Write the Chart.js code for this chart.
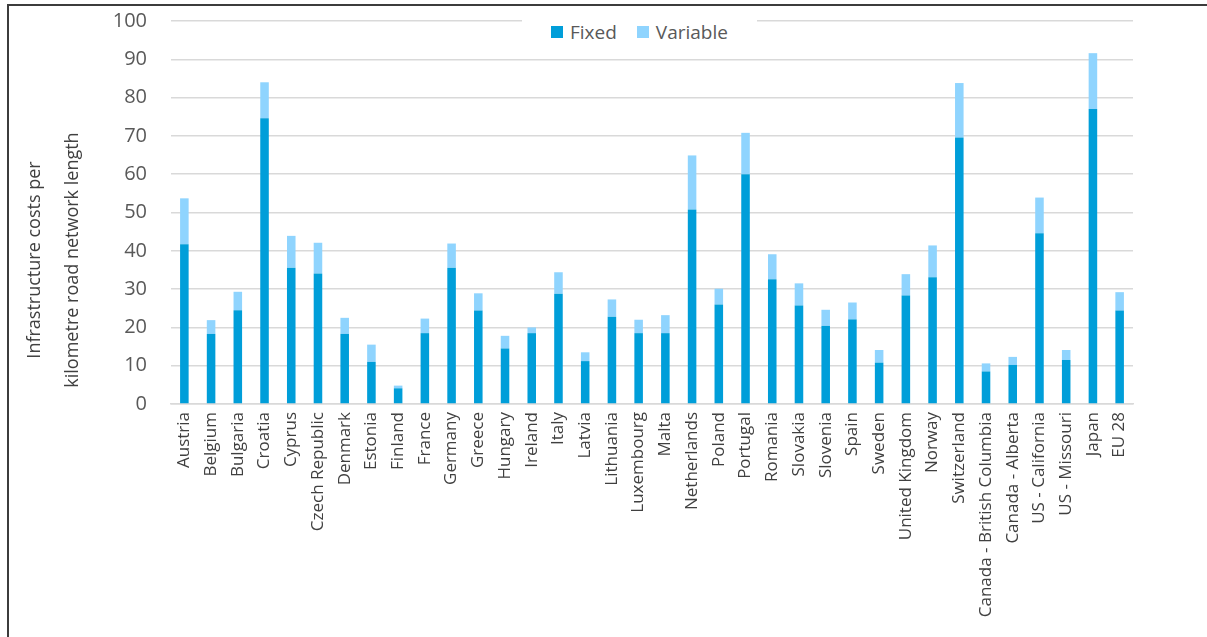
<!DOCTYPE html>
<html>
<head>
<meta charset="utf-8">
<script src="https://cdn.jsdelivr.net/npm/chart.js@4.4.0/dist/chart.umd.min.js"></script>
<style>
    html, body { margin: 0; padding: 0; background: #fff; overflow: hidden; }
    #wrap { position: relative; width: 1207px; height: 637px; font-family: "Open Sans", sans-serif; }
    #frame { position: absolute; left: 7px; top: 4px; width: 1300px; height: 700px;
             border-left: 2px solid #3c3c3c; border-top: 2px solid #3c3c3c; pointer-events: none; }
    #ytitle { position: absolute; left: 52px; top: 260px; width: 320px;
              transform: translate(-50%, -50%) rotate(-90deg);
              text-align: center; font-size: 18px; line-height: 38px; color: #404040; white-space: nowrap; }
    #legend { position: absolute; left: 522px; top: 18px; width: 235px; height: 28px; background: #fff;
              display: flex; justify-content: center; align-items: center; font-size: 19px; color: #595959; }
    #legend span.item { display: flex; align-items: center; margin: 0 10px; }
    #legend span.box { display: inline-block; width: 12px; height: 12px; margin-right: 7px; }
</style>
</head>
<body>
<div id="wrap">
    <canvas id="myChart"></canvas>
    <div id="ytitle">Infrastructure costs per<br>kilometre road network length</div>
    <div id="legend"></div>
    <div id="frame"></div>
</div>
<script>
var negara = ['Austria', 'Belgium', 'Bulgaria', 'Croatia', 'Cyprus', 'Czech Republic', 'Denmark', 'Estonia',
    'Finland', 'France', 'Germany', 'Greece', 'Hungary', 'Ireland', 'Italy', 'Latvia', 'Lithuania',
    'Luxembourg', 'Malta', 'Netherlands', 'Poland', 'Portugal', 'Romania', 'Slovakia', 'Slovenia', 'Spain',
    'Sweden', 'United Kingdom', 'Norway', 'Switzerland', 'Canada - British Columbia', 'Canada - Alberta',
    'US - California', 'US - Missouri', 'Japan', 'EU 28'];
var fixed = [41.7, 18.3, 24.5, 74.6, 35.6, 34.1, 18.3, 11.0, 4.1, 18.5, 35.6, 24.4, 14.5, 18.5, 28.8, 11.2,
    22.8, 18.5, 18.5, 50.8, 26.0, 60.0, 32.6, 25.7, 20.4, 22.1, 10.8, 28.3, 33.1, 69.6, 8.5, 10.2,
    44.6, 11.5, 77.0, 24.4];
var variable = [12.0, 3.6, 4.8, 9.4, 8.3, 8.0, 4.2, 4.5, 0.7, 3.8, 6.3, 4.5, 3.3, 1.5, 5.6, 2.3,
    4.5, 3.5, 4.7, 14.1, 4.1, 10.8, 6.5, 5.8, 4.2, 4.4, 3.3, 5.6, 8.3, 14.2, 2.1, 2.1,
    9.3, 2.6, 14.6, 4.8];
var yTicks = [0, 10, 20, 30, 40, 50, 60, 70, 80, 90, 100];

var warnaFixed = '#009ed9';
var warnaVariable = '#8fd4fe';

var ctx = document.getElementById('myChart').getContext('2d');
var barGraph = new Chart(ctx, {
    type: 'bar',
    data: {
        labels: negara,
        datasets: [{
            label: 'Fixed',
            data: fixed,
            backgroundColor: warnaFixed,
            barPercentage: 0.32,
            categoryPercentage: 1
        }, {
            label: 'Variable',
            data: variable,
            backgroundColor: warnaVariable,
            barPercentage: 0.32,
            categoryPercentage: 1
        }]
    },
    options: {
        responsive: true,
        maintainAspectRatio: false,
        animation: false,
        layout: { padding: { top: 21, right: 74, bottom: 0, left: 0 } },
        plugins: {
            legend: { display: false },
            tooltip: { enabled: true }
        },
        scales: {
            x: {
                stacked: true,
                grid: { display: false, drawTicks: false },
                border: { display: true, color: '#d9d9d9', width: 1.5 },
                ticks: {
                    autoSkip: false,
                    minRotation: 90,
                    maxRotation: 90,
                    padding: 8,
                    color: '#404040',
                    font: { family: 'Open Sans', size: 17 }
                },
                afterFit: function(scale) { scale.height = 233; }
            },
            y: {
                stacked: true,
                min: yTicks[0],
                max: yTicks[yTicks.length - 1],
                afterBuildTicks: function(scale) {
                    scale.ticks = yTicks.map(function(v) { return { value: v }; });
                },
                grid: { color: '#d9d9d9', lineWidth: 1.5, drawTicks: false },
                border: { display: false },
                ticks: {
                    padding: 24,
                    color: '#595959',
                    font: { family: 'Open Sans', size: 20 }
                },
                afterFit: function(scale) {
                    scale.width = 171;
                    // padding label jangan dorong area chart ke bawah
                    scale.paddingTop = 0;
                    scale.paddingBottom = 0;
                }
            }
        }
    }
});

// legend html dari dataset chart
var legendBox = document.getElementById('legend');
barGraph.data.datasets.forEach(function(ds) {
    var item = document.createElement('span');
    item.className = 'item';
    var kotak = document.createElement('span');
    kotak.className = 'box';
    kotak.style.background = ds.backgroundColor;
    item.appendChild(kotak);
    item.appendChild(document.createTextNode(ds.label));
    legendBox.appendChild(item);
});
</script>
</body>
</html>
